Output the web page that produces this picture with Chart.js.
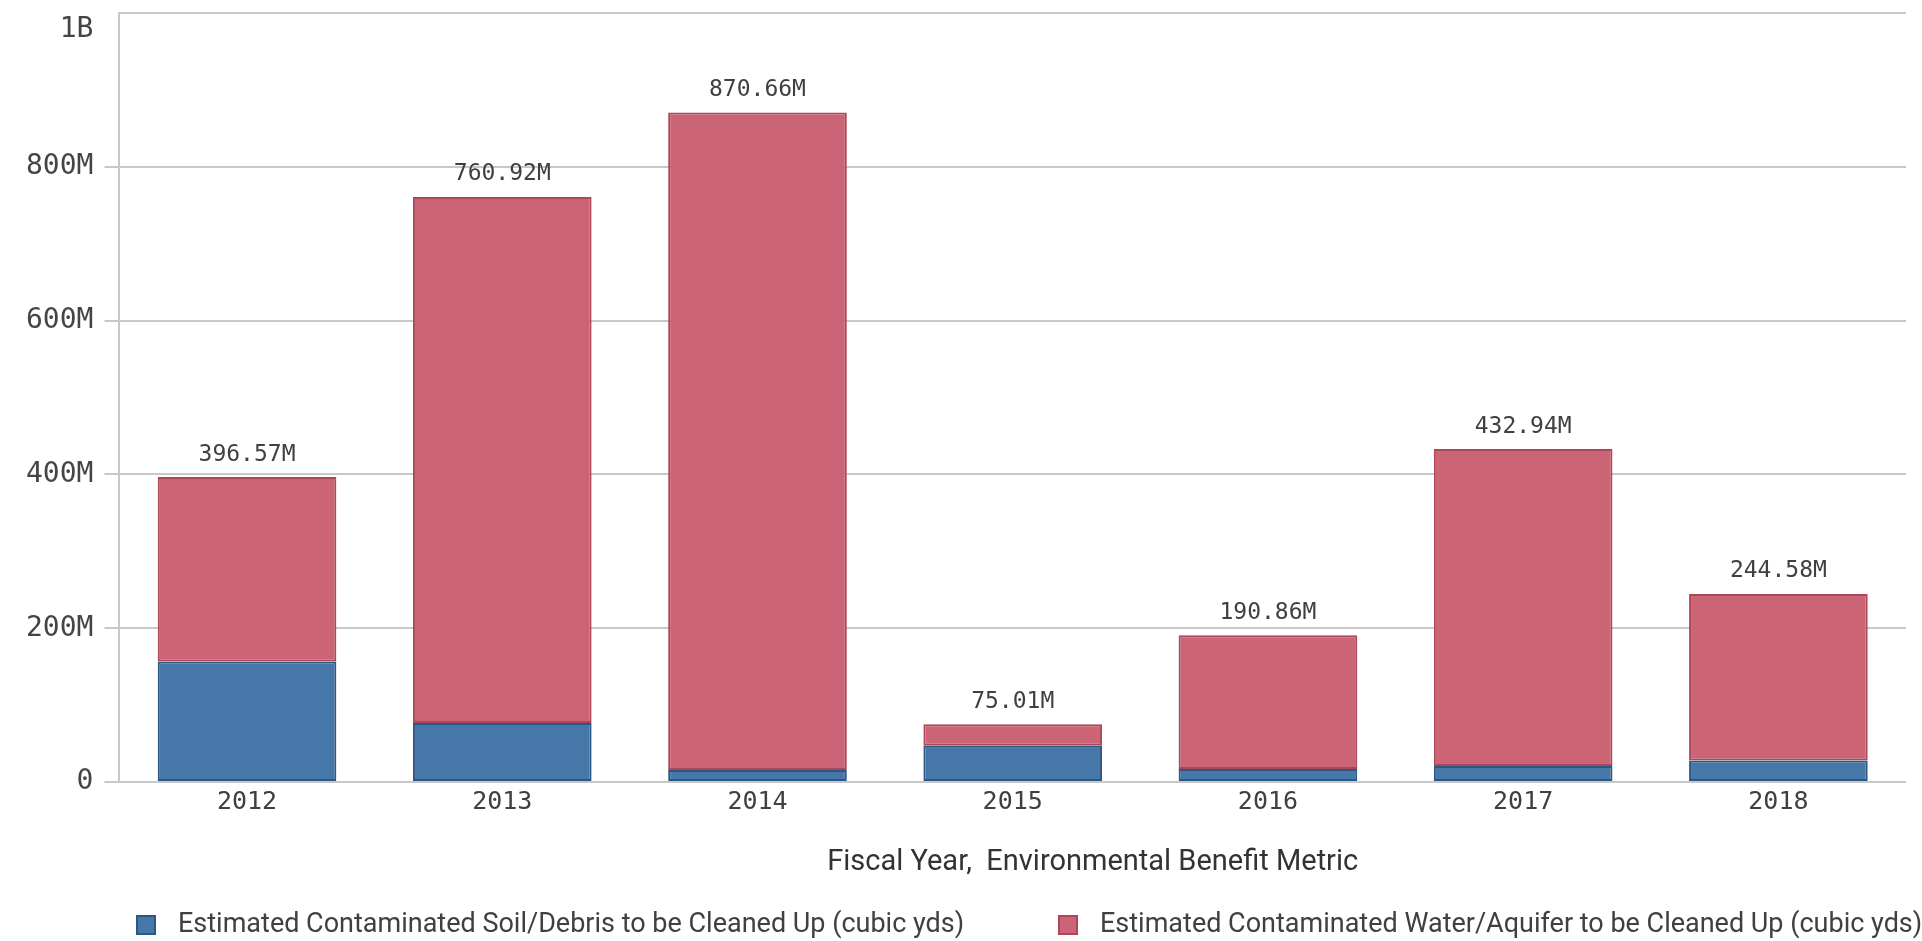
<!DOCTYPE html>
<html>
<head>
<meta charset="utf-8">
<script src="https://cdn.jsdelivr.net/npm/chart.js@4.4.0/dist/chart.umd.min.js"></script>
<style>
  html, body { margin: 0; padding: 0; background: #fff; }
  #wrap { width: 1922px; height: 941px; position: relative; }
</style>
</head>
<body>
<div id="wrap"><canvas id="benefit-chart"></canvas></div>
<script>
const years = ['2012', '2013', '2014', '2015', '2016', '2017', '2018'];

// values in millions of cubic yards
const soilData = [156.60, 76.80, 15.50, 47.00, 16.80, 20.70, 28.10];
const waterData = [239.97, 684.12, 855.16, 28.01, 174.06, 412.24, 216.48];

const yTicks = [0, 200, 400, 600, 800, 1000];
const yMax = 1000;

const soilLabel = 'Estimated Contaminated Soil/Debris to be Cleaned Up (cubic yds)';
const waterLabel = 'Estimated Contaminated Water/Aquifer to be Cleaned Up (cubic yds)';
const axisTitle = 'Fiscal Year,  Environmental Benefit Metric';

const monoFont = '"DejaVu Sans Mono", "Liberation Mono", monospace';
const textFont = '"Roboto", "Liberation Sans", sans-serif';

const blue = '#4577a8';
const blueEdge = '#2b5785';
const red = '#cb6576';
const redEdge = '#ad4658';
const gridGray = '#c8c8c8';

function fmtTick(v) {
    if (v === 0) return '0';
    if (v >= 1000) return (v / 1000) + 'B';
    return v + 'M';
}

// totals above each stack, top y label, axis title and legend
const extras = {
    id: 'extras',
    afterDatasetsDraw(chart) {
        const c = chart.ctx;
        const top = chart.getDatasetMeta(1);
        c.save();
        c.font = '23px ' + monoFont;
        c.fillStyle = '#404040';
        c.textAlign = 'center';
        c.textBaseline = 'bottom';
        top.data.forEach((bar, i) => {
            const total = soilData[i] + waterData[i];
            c.fillText(total.toFixed(2) + 'M', bar.x, bar.y - 11);
        });
        c.restore();
    },
    afterDraw(chart) {
        const c = chart.ctx;
        const area = chart.chartArea;
        const y = chart.scales.y;
        c.save();

        // the top tick label sits just under its grid line
        c.font = '28px ' + monoFont;
        c.fillStyle = '#454545';
        c.textAlign = 'right';
        c.textBaseline = 'middle';
        c.fillText(fmtTick(yMax), y.right - 15 - 11, y.getPixelForValue(yMax) + 17);

        c.fillStyle = '#333';
        c.font = '29px ' + textFont;
        c.textAlign = 'center';
        c.fillText(axisTitle, (area.left + area.right) / 2 + 80, 863);

        c.font = '27px ' + textFont;
        c.textAlign = 'left';
        const items = [
            { x: 136, label: soilLabel, fill: blue, edge: blueEdge },
            { x: 1058, label: waterLabel, fill: red, edge: redEdge }
        ];
        items.forEach(it => {
            c.fillStyle = it.fill;
            c.fillRect(it.x, 915, 20, 20);
            c.strokeStyle = it.edge;
            c.lineWidth = 2;
            c.strokeRect(it.x + 1, 916, 18, 18);
            c.fillStyle = '#404040';
            c.fillText(it.label, it.x + 42, 925);
        });
        c.restore();
    }
};

const chart = new Chart(document.getElementById('benefit-chart'), {
    type: 'bar',
    data: {
        labels: years,
        datasets: [
            {
                label: soilLabel,
                data: soilData,
                backgroundColor: blue,
                borderColor: blueEdge,
                borderWidth: 2,
                borderSkipped: false
            },
            {
                label: waterLabel,
                data: waterData,
                backgroundColor: red,
                borderColor: redEdge,
                borderWidth: 2,
                borderSkipped: false
            }
        ]
    },
    options: {
        responsive: true,
        maintainAspectRatio: false,
        animation: false,
        layout: {
            padding: { left: 15, right: 16, top: 0, bottom: 127 }
        },
        datasets: {
            bar: { categoryPercentage: 1.0, barPercentage: 0.7 }
        },
        plugins: {
            legend: { display: false },
            tooltip: { enabled: false }
        },
        scales: {
            x: {
                stacked: true,
                grid: { display: false },
                border: { display: false },
                ticks: {
                    color: '#404040',
                    padding: -3,
                    font: { family: monoFont, size: 25 }
                }
            },
            y: {
                stacked: true,
                min: 0,
                max: yMax,
                afterBuildTicks(axis) {
                    axis.ticks = yTicks.map(v => ({ value: v }));
                },
                grid: {
                    color: gridGray,
                    lineWidth: 2,
                    tickLength: 15,
                    tickColor: ctx => (ctx.tick && ctx.tick.value === yMax ? 'rgba(0,0,0,0)' : gridGray)
                },
                border: { color: gridGray, width: 2 },
                ticks: {
                    color: '#454545',
                    padding: 11,
                    font: { family: monoFont, size: 28, lineHeight: 0.15 },
                    callback: v => (v === yMax ? '' : fmtTick(v))
                }
            }
        }
    },
    plugins: [extras]
});
</script>
</body>
</html>
